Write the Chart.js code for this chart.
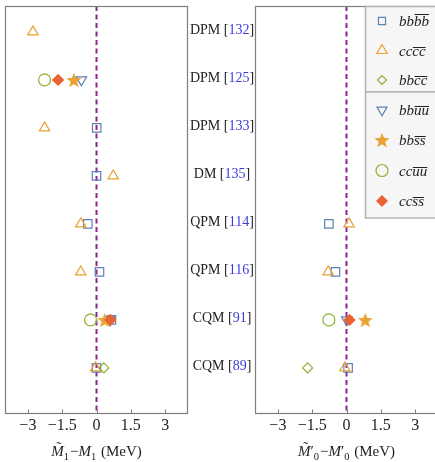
<!DOCTYPE html>
<html>
<head>
<meta charset="utf-8">
<script src="https://cdn.jsdelivr.net/npm/chart.js@4"></script>
<style>
html, body { margin: 0; padding: 0; background: #fff; overflow: hidden; }
#wrap { position: relative; width: 435px; height: 462px; overflow: hidden; }
canvas { position: absolute; top: 0; }
#left { left: 0; }
#right { left: 250px; }
</style>
</head>
<body>
<div id="wrap">
  <canvas id="left" width="255" height="462"></canvas>
  <canvas id="right" width="255" height="462"></canvas>
</div>
<script>
// rows, top to bottom
var methods = ['DPM', 'DPM', 'DPM', 'DM', 'QPM', 'QPM', 'CQM', 'CQM'];
var refs = ['132', '125', '133', '135', '114', '116', '91', '89'];
var rows = [1, 2, 3, 4, 5, 6, 7, 8];
var xTicks = [-3, -1.5, 0, 1.5, 3];

// left panel: M~1 - M1 (MeV), null = no value
var bbbb1 = [null, null, 0.01, 0.0, -0.38, 0.13, 0.65, 0.0];
var cccc1 = [-2.78, null, -2.27, 0.73, -0.69, -0.69, null, -0.04];
var bbcc1 = [null, null, null, null, null, null, null, 0.32];
var bbuu1 = [null, -0.66, null, null, null, null, 0.6, null];
var bbss1 = [null, -0.99, null, null, null, null, 0.36, null];
var ccuu1 = [null, -2.27, null, null, null, null, -0.26, null];
var ccss1 = [null, -1.68, null, null, null, null, 0.61, null];

// right panel: M~'0 - M'0 (MeV)
var bbbb0 = [null, null, null, null, -0.77, -0.48, null, 0.07];
var cccc0 = [null, null, null, null, 0.11, -0.8, null, -0.07];
var bbcc0 = [null, null, null, null, null, null, null, -1.7];
var bbuu0 = [null, null, null, null, null, null, 0.01, null];
var bbss0 = [null, null, null, null, null, null, 0.82, null];
var ccuu0 = [null, null, null, null, null, null, -0.77, null];
var ccss0 = [null, null, null, null, null, null, 0.13, null];

var blue = '#5e81b5', orange = '#e9a234', green = '#8fb032', red = '#eb6235';
var purple = '#8e2490', frame = '#7f7f7f';
var serif = '"Liberation Serif", "DejaVu Serif", serif';
var yMin = 0.46, yMax = 8.94;

function makeStar(size, color) {
    var c = document.createElement('canvas');
    c.width = size; c.height = size;
    var g = c.getContext('2d');
    var cx = size / 2, cy = size / 2 + 0.8, R = size / 2, r = R * 0.42;
    g.beginPath();
    for (var k = 0; k < 10; k++) {
        var a = -Math.PI / 2 + k * Math.PI / 5;
        var rr = k % 2 ? r : R;
        g.lineTo(cx + rr * Math.cos(a), cy + rr * Math.sin(a));
    }
    g.closePath();
    g.fillStyle = color;
    g.fill();
    return c;
}
var star = makeStar(16, orange);

// marker styles, same order as the legend
var series = [
    { label: ['bb', 'bb'], style: 'rect', r: 6, lr: 5, rot: 0, color: blue, fill: false },
    { label: ['cc', 'cc'], style: 'triangle', r: 6, lr: 6, rot: 0, color: orange, fill: false },
    { label: ['bb', 'cc'], style: 'rectRot', r: 5, lr: 4.5, rot: 0, color: green, fill: false },
    { label: ['bb', 'uu'], style: 'triangle', r: 6, lr: 5.8, rot: 180, color: blue, fill: false },
    { label: ['bb', 'ss'], style: star, r: 8, lr: 8, rot: 0, color: orange, fill: true },
    { label: ['cc', 'uu'], style: 'circle', r: 6, lr: 6, rot: 0, color: green, fill: false },
    { label: ['cc', 'ss'], style: 'rectRot', r: 6.2, lr: 6, rot: 0, color: red, fill: true }
];

function points(vals) {
    var out = [];
    vals.forEach(function (v, i) {
        if (v !== null) out.push({ x: v, y: rows[i] });
    });
    return out;
}

function buildDatasets(valueSets) {
    var ds = valueSets.map(function (vals, i) {
        var s = series[i];
        return {
            data: points(vals),
            pointStyle: s.style,
            pointRadius: s.r,
            pointRotation: s.rot,
            pointBorderColor: s.color,
            pointBackgroundColor: s.fill ? s.color : 'rgba(0,0,0,0)',
            pointBorderWidth: s.fill ? 0 : 1.2,
            order: 7 - i
        };
    });
    // dashed zero line
    ds.push({
        data: [{ x: 0, y: yMin }, { x: 0, y: yMax }],
        showLine: true,
        borderColor: purple,
        borderWidth: 2,
        borderDash: [5, 3.5],
        pointRadius: 0,
        order: 20
    });
    return ds;
}

function fmt(v) {
    return v < 0 ? '\u2212' + Math.abs(v) : String(v);
}

// frame, inner ticks and the axis title
var framePlugin = {
    id: 'frame',
    afterDraw: function (chart) {
        var ctx = chart.ctx, a = chart.chartArea, xs = chart.scales.x;
        var l = Math.round(a.left) + 0.5, r = Math.round(a.right) - 0.5;
        var t = Math.round(a.top) + 0.5, b = Math.round(a.bottom) + 0.5;
        ctx.save();
        ctx.strokeStyle = frame;
        ctx.lineWidth = 1.2;
        ctx.strokeRect(l, t, r - l, b - t);
        ctx.lineWidth = 1;
        xTicks.forEach(function (v) {
            var px = Math.round(xs.getPixelForValue(v)) + 0.5;
            ctx.beginPath();
            ctx.moveTo(px, b);
            ctx.lineTo(px, b - 4);
            ctx.stroke();
        });

        // title
        var parts = chart.options.plugins.frame.title;
        var big = '15px ' + serif, bigIt = 'italic 15px ' + serif, small = '10.5px ' + serif;
        var w = 0;
        parts.forEach(function (p) {
            ctx.font = p.sub ? small : (p.it ? bigIt : big);
            p.w = ctx.measureText(p.t).width + (p.gap || 0);
            w += p.w;
        });
        var x = (a.left + a.right) / 2 - w / 2, base = 456;
        ctx.fillStyle = '#222';
        ctx.textBaseline = 'alphabetic';
        ctx.textAlign = 'left';
        parts.forEach(function (p) {
            ctx.font = p.sub ? small : (p.it ? bigIt : big);
            ctx.fillText(p.t, x, base + (p.sub ? 3.5 : 0));
            if (p.tilde) {
                ctx.font = '15px ' + serif;
                ctx.textAlign = 'center';
                ctx.fillText('\u02dc', x + p.w / 2 + 1.5, base - 4);
                ctx.textAlign = 'left';
            }
            x += p.w;
        });
        ctx.restore();
    }
};

// method labels between the panels
var rowLabels = {
    id: 'rowLabels',
    afterDraw: function (chart) {
        if (!chart.options.plugins.rowLabels.show) return;
        var ctx = chart.ctx, ys = chart.scales.y;
        ctx.save();
        ctx.font = '14px ' + serif;
        ctx.textBaseline = 'middle';
        ctx.textAlign = 'left';
        rows.forEach(function (row, i) {
            var segs = [[methods[i] + ' [', '#222'], [refs[i], '#3b3bdd'], [']', '#222']];
            var w = 0;
            segs.forEach(function (s) { w += ctx.measureText(s[0]).width; });
            var x = 222 - w / 2, y = ys.getPixelForValue(row) - 1.5;
            segs.forEach(function (s) {
                ctx.fillStyle = s[1];
                ctx.fillText(s[0], x, y);
                x += ctx.measureText(s[0]).width;
            });
        });
        ctx.restore();
    }
};

// boxed legend with overlined antiquarks
var boxLegend = {
    id: 'boxLegend',
    afterDraw: function (chart) {
        if (!chart.options.plugins.boxLegend.show) return;
        var ctx = chart.ctx;
        var bx = 115.5, rowsY = [21, 50.5, 80, 110, 140, 170.5, 201];
        ctx.save();
        ctx.fillStyle = '#f6f6f6';
        ctx.strokeStyle = '#b4b4b4';
        ctx.lineWidth = 1.5;
        [[6.5, 92], [92, 218]].forEach(function (bb) {
            ctx.fillRect(bx, bb[0], 200, bb[1] - bb[0]);
            ctx.strokeRect(bx, bb[0], 200, bb[1] - bb[0]);
        });
        series.forEach(function (s, i) {
            var y = rowsY[i];
            ctx.strokeStyle = s.color;
            ctx.fillStyle = s.fill ? s.color : 'rgba(0,0,0,0)';
            ctx.lineWidth = 1.2;
            Chart.helpers.drawPoint(ctx, {
                pointStyle: s.style,
                radius: s.lr,
                rotation: s.rot,
                borderWidth: s.fill ? 0 : 1.2
            }, 132, y);
            ctx.font = 'italic 15px ' + serif;
            ctx.fillStyle = '#222';
            ctx.textBaseline = 'alphabetic';
            var base = y + 5, x = 149;
            ctx.fillText(s.label[0], x, base);
            x += ctx.measureText(s.label[0]).width;
            ctx.fillText(s.label[1], x, base);
            var m = ctx.measureText(s.label[1]);
            var oy = Math.round(base - m.actualBoundingBoxAscent - 2) + 0.5;
            ctx.strokeStyle = '#222';
            ctx.lineWidth = 1;
            ctx.beginPath();
            ctx.moveTo(x + 0.5, oy);
            ctx.lineTo(x + m.width, oy);
            ctx.stroke();
        });
        ctx.restore();
    }
};

function makePanel(id, valueSets, title, labels, legend) {
    return new Chart(document.getElementById(id), {
        type: 'scatter',
        data: { datasets: buildDatasets(valueSets) },
        plugins: [framePlugin, rowLabels, boxLegend],
        options: {
            responsive: false,
            animation: false,
            events: [],
            layout: { autoPadding: false, padding: { left: 5, right: 67, top: 6, bottom: 23.8 } },
            scales: {
                x: {
                    type: 'linear', min: -4, max: 4,
                    afterBuildTicks: function (s) {
                        s.ticks = xTicks.map(function (v) { return { value: v }; });
                    },
                    grid: { display: false, drawTicks: false },
                    border: { display: false },
                    ticks: {
                        font: { family: serif, size: 16 },
                        color: '#222',
                        padding: 3,
                        maxRotation: 0,
                        autoSkip: false,
                        callback: fmt
                    }
                },
                y: { type: 'linear', min: yMin, max: yMax, reverse: true, display: false }
            },
            plugins: {
                legend: { display: false },
                tooltip: { enabled: false },
                frame: { title: title },
                rowLabels: { show: labels },
                boxLegend: { show: legend }
            }
        }
    });
}

var leftChart = makePanel('left',
    [bbbb1, cccc1, bbcc1, bbuu1, bbss1, ccuu1, ccss1],
    [{ t: 'M', it: true, tilde: true }, { t: '1', sub: true, gap: 1 }, { t: '\u2212' }, { t: 'M', it: true },
     { t: '1', sub: true, gap: 1 }, { t: ' (MeV)' }],
    true, false);

var rightChart = makePanel('right',
    [bbbb0, cccc0, bbcc0, bbuu0, bbss0, ccuu0, ccss0],
    [{ t: 'M', it: true, tilde: true }, { t: '\u2032' }, { t: '0', sub: true, gap: 1 }, { t: '\u2212' },
     { t: 'M', it: true }, { t: '\u2032' }, { t: '0', sub: true, gap: 1 }, { t: ' (MeV)' }],
    false, true);
</script>
</body>
</html>
